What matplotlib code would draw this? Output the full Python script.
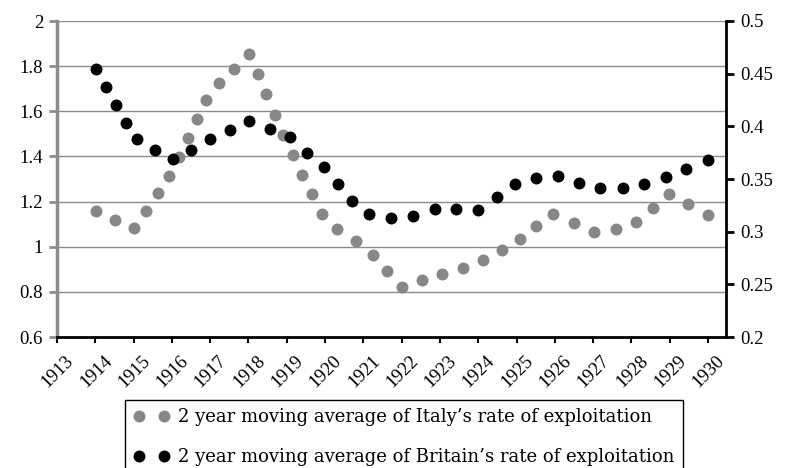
import matplotlib
matplotlib.use("Agg")
import matplotlib.pyplot as plt
from matplotlib.transforms import ScaledTranslation, blended_transform_factory

plt.rcParams['font.family'] = ['Liberation Serif', 'DejaVu Serif']

# Italy (left axis)
italy_x = [1914.02, 1914.52, 1915.02, 1915.32, 1915.63, 1915.93, 1916.19, 1916.41,
           1916.65, 1916.89, 1917.22, 1917.61, 1918.01, 1918.24, 1918.47, 1918.69,
           1918.90, 1919.16, 1919.41, 1919.65, 1919.91, 1920.32, 1920.80, 1921.24,
           1921.61, 1922.00, 1922.53, 1923.06, 1923.59, 1924.12, 1924.61, 1925.10,
           1925.52, 1925.94, 1926.51, 1927.03, 1927.60, 1928.12, 1928.56, 1928.98,
           1929.49, 1929.99]
italy_y = [1.159, 1.120, 1.082, 1.159, 1.237, 1.314, 1.397, 1.481, 1.565, 1.651,
           1.724, 1.788, 1.853, 1.764, 1.676, 1.584, 1.495, 1.407, 1.318, 1.234,
           1.145, 1.080, 1.027, 0.964, 0.893, 0.821, 0.852, 0.881, 0.907, 0.939,
           0.986, 1.033, 1.091, 1.147, 1.104, 1.064, 1.078, 1.109, 1.173, 1.234,
           1.188, 1.142]

# Britain (right axis)
britain_x = [1914.02, 1914.28, 1914.54, 1914.80, 1915.09, 1915.56, 1916.02, 1916.51,
             1917.00, 1917.51, 1918.01, 1918.55, 1919.09, 1919.52, 1919.96, 1920.35,
             1920.71, 1921.15, 1921.73, 1922.29, 1922.86, 1923.43, 1924.00, 1924.48,
             1924.96, 1925.51, 1926.08, 1926.63, 1927.18, 1927.77, 1928.33, 1928.90,
             1929.43, 1929.99]
britain_y = [0.4544, 0.4373, 0.4204, 0.4036, 0.3878, 0.3779, 0.3688, 0.3779, 0.3878,
             0.3967, 0.4052, 0.3979, 0.3894, 0.3751, 0.3612, 0.3453, 0.3292, 0.3165,
             0.3133, 0.3152, 0.3213, 0.3213, 0.3203, 0.3330, 0.3456, 0.3510, 0.3532,
             0.3466, 0.3418, 0.3418, 0.3453, 0.3517, 0.3599, 0.3679]

year_ticks = list(range(1913, 1931))
left_ticks = [0.6, 0.8, 1.0, 1.2, 1.4, 1.6, 1.8, 2.0]
left_labels = ['0.6', '0.8', '1', '1.2', '1.4', '1.6', '1.8', '2']
right_ticks = [0.2, 0.25, 0.3, 0.35, 0.4, 0.45, 0.5]
right_labels = ['0.2', '0.25', '0.3', '0.35', '0.4', '0.45', '0.5']

label_italy = "2 year moving average of Italy\u2019s rate of exploitation"
label_britain = "2 year moving average of Britain\u2019s rate of exploitation"

FS = 13.5
GRAY = '#878787'
AXGRAY = '#8c8c8c'

fig = plt.figure(figsize=(7.85, 4.68), dpi=100)
ax = fig.add_axes([57/785, 1-337/468, (726-57)/785, (337-21)/468])
ax2 = ax.twinx()

h1, = ax.plot(italy_x, italy_y, linestyle='none', marker='o', markersize=8.6,
              color=GRAY, markeredgewidth=0, label=label_italy)
h2, = ax2.plot(britain_x, britain_y, linestyle='none', marker='o', markersize=8.6,
               color='black', markeredgewidth=0, label=label_britain)

ax.set_xlim(1913, 1930.47)
ax.set_ylim(0.6, 2.0)
ax2.set_ylim(0.2, 0.5)

ax.set_yticks(left_ticks)
ax.set_yticklabels(left_labels, fontsize=FS)
ax2.set_yticks(right_ticks)
ax2.set_yticklabels(right_labels, fontsize=FS)

ax.set_xticks(year_ticks)
ax.set_xticklabels([])
trans = blended_transform_factory(ax.transData, ax.transAxes) + \
    ScaledTranslation(14/100, -21/100, fig.dpi_scale_trans)
for y in year_ticks:
    ax.text(y, 0, str(y), transform=trans, fontsize=FS, rotation=45,
            ha='right', va='center', rotation_mode='anchor')

ax.yaxis.grid(True, color=AXGRAY, linewidth=1.0)
ax.set_axisbelow(True)

for a in (ax, ax2):
    a.spines['top'].set_visible(False)
ax.spines['right'].set_visible(False)
ax2.spines['left'].set_visible(False)
ax2.spines['bottom'].set_visible(False)
ax.spines['left'].set_color(AXGRAY)
ax.spines['left'].set_linewidth(2.5)
ax.spines['bottom'].set_color('black')
ax.spines['bottom'].set_linewidth(2.0)
ax2.spines['right'].set_color('black')
ax2.spines['right'].set_linewidth(2.0)

ax.tick_params(axis='y', direction='out', length=6, width=2, color=AXGRAY, pad=4)
ax.tick_params(axis='x', direction='out', length=4, width=1.5, color='black', pad=0)
ax2.tick_params(axis='y', direction='out', length=6, width=2, color='black', pad=4)

leg = fig.legend(handles=[h1, h2], loc='upper left',
                 bbox_to_anchor=(125/785, 1-400/468), borderaxespad=0,
                 numpoints=2, prop={'family': 'DejaVu Serif', 'size': 13.0},
                 frameon=True, fancybox=False,
                 edgecolor='black', framealpha=1, handlelength=2.0,
                 handletextpad=0.45, borderpad=0.47, labelspacing=1.2)
leg.get_frame().set_linewidth(1.0)

fig.savefig('out.png', dpi=100)
